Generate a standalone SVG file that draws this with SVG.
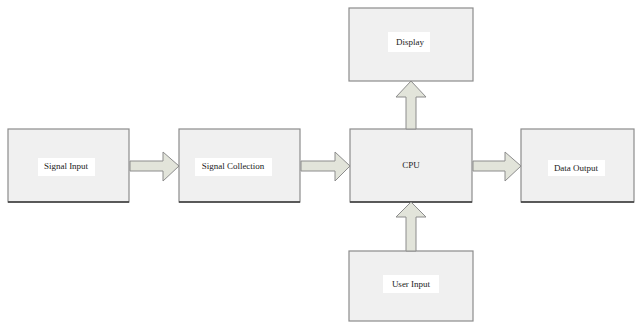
<svg xmlns="http://www.w3.org/2000/svg" width="639" height="322" viewBox="0 0 639 322">
<style>
.box{fill:#f0f0f0;stroke:#8c8c8c;stroke-width:1.2}
.shadow{stroke:#3a3a3a;stroke-width:1.5}
.lblbg{fill:#ffffff}
.lbl{font-family:"Liberation Serif",serif;font-size:9px;fill:#222;text-anchor:middle}
.arrow{fill:#e2e4da;stroke:#8c8c8c;stroke-width:1}
</style>
<rect width="639" height="322" fill="#ffffff"/>
<g id="signal-input">
<rect class="box" x="8" y="129" width="121" height="73"/>
<line class="shadow" x1="8" y1="202" x2="129" y2="202"/>
<rect class="lblbg" x="38" y="158" width="57" height="18"/>
<text class="lbl" x="66" y="169">Signal Input</text>
</g>
<g id="signal-collection">
<rect class="box" x="179" y="129" width="121" height="73"/>
<line class="shadow" x1="179" y1="202" x2="300" y2="202"/>
<rect class="lblbg" x="195" y="158" width="77" height="18"/>
<text class="lbl" x="233" y="169">Signal Collection</text>
</g>
<g id="cpu">
<rect class="box" x="350" y="129" width="122" height="73"/>
<line class="shadow" x1="350" y1="202" x2="472" y2="202"/>
<text class="lbl" x="411" y="168">CPU</text>
</g>
<g id="display">
<rect class="box" x="349" y="8" width="124" height="73"/>
<rect class="lblbg" x="388" y="32" width="42" height="20"/>
<text class="lbl" x="410" y="45">Display</text>
</g>
<g id="data-output">
<rect class="box" x="521" y="129" width="113" height="73"/>
<line class="shadow" x1="521" y1="202" x2="634" y2="202"/>
<rect class="lblbg" x="548" y="160" width="57" height="16"/>
<text class="lbl" x="576" y="171">Data Output</text>
</g>
<g id="user-input">
<rect class="box" x="349" y="251" width="124" height="70"/>
<rect class="lblbg" x="383" y="275" width="56" height="18"/>
<text class="lbl" x="411" y="287">User Input</text>
</g>
<g id="connectors">
<polygon class="arrow" points="130,161 163,161 163,152 179,166 163,181 163,171 130,171"/>
<polygon class="arrow" points="301,161 335,161 335,152 350,166 335,181 335,171 301,171"/>
<polygon class="arrow" points="473,161 505,161 505,152 521,166 505,181 505,171 473,171"/>
<polygon class="arrow" points="406,129 406,97 396,97 411,81 426,97 416,97 416,129"/>
<polygon class="arrow" points="406,251 406,217 396,217 411,202 426,217 416,217 416,251"/>
</g>
</svg>
